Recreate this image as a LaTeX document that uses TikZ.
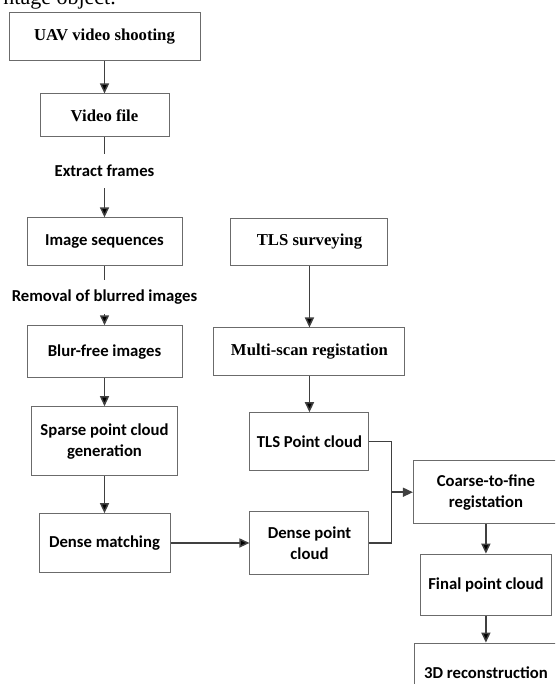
\documentclass[tikz,border=0pt]{standalone}
\usepackage{fontspec}
\setmainfont{Liberation Serif}
\setsansfont{Carlito}
\usepackage{tikz}
\usetikzlibrary{positioning,arrows.meta}
\definecolor{framegray}{rgb}{0.42, 0.42, 0.42}
\definecolor{linegray}{rgb}{0.25, 0.25, 0.25}
\tikzstyle{serifbox}=[rectangle, draw=framegray, line width=1pt, inner sep=0pt, align=center, font=\fontsize{16.7}{21}\selectfont\rmfamily\bfseries]
\tikzstyle{sansbox}=[rectangle, draw=framegray, line width=1pt, inner sep=0pt, align=center, font=\fontsize{16.7}{21}\selectfont\sffamily\bfseries]
\tikzstyle{steplabel}=[rectangle, inner sep=0pt, minimum height=34pt, font=\fontsize{16.7}{21}\selectfont\sffamily\bfseries]
\tikzstyle{link}=[draw=linegray, line width=1.5pt]

\begin{document}
\begin{tikzpicture}[x=1pt, y=-1pt, >={Triangle[length=10pt,width=9pt]}]
\useasboundingbox (0,0) rectangle (555,684);
\clip (0,0) rectangle (555,684);

\node[anchor=base east, inner sep=0pt, font=\fontsize{22}{26}\selectfont\rmfamily](pagetext) at (116,5){ntage object.};

\node[serifbox, minimum width=191pt, minimum height=48pt](uav) at (104.5,37){UAV video shooting};
\node[serifbox, minimum width=129pt, minimum height=43pt](video)[below of = uav, yshift = -50pt]{Video file};
\node[steplabel](extract)[below of = video, yshift = -27pt]{Extract frames};
\node[sansbox, minimum width=155pt, minimum height=48pt](imgseq)[below of = extract, yshift = -42.5pt]{Image sequences};
\node[steplabel](removal)[below of = imgseq, yshift = -26.5pt]{Removal of blurred images};
\node[sansbox, minimum width=155pt, minimum height=52pt](blurfree)[below of = removal, yshift = -26.5pt]{Blur-free images};
\node[sansbox, minimum width=146pt, minimum height=69pt](sparse)[below of = blurfree, yshift = -61pt]{Sparse point cloud\\generation};
\node[sansbox, minimum width=131pt, minimum height=58.6pt](densematch)[below of = sparse, yshift = -73.3pt]{Dense matching};

\node[serifbox, minimum width=157pt, minimum height=47.7pt](tlssurvey)[right of = imgseq, xshift = 176.5pt]{TLS surveying};
\node[serifbox, minimum width=191pt, minimum height=47.6pt](multiscan)[right of = blurfree, xshift = 176.5pt]{Multi-scan registation};
\node[sansbox, minimum width=119pt, minimum height=58pt](tlspc)[below of = multiscan, yshift = -61.5pt]{TLS Point cloud};
\node[sansbox, minimum width=119pt, minimum height=63pt](densepc)[right of = densematch, xshift = 176.5pt]{Dense point\\cloud};

\node[sansbox, minimum width=145pt, minimum height=63.4pt](coarse)[right of = tlspc, xshift = 148pt, yshift = -50.5pt]{Coarse-to-fine\\registation};
\node[sansbox, minimum width=131pt, minimum height=61pt](final)[below of = coarse, yshift = -64pt]{Final point cloud};
\node[sansbox, minimum width=142pt, minimum height=60pt](recon)[below of = final, yshift = -60pt]{3D reconstruction};
\coordinate[left of = coarse, xshift = -66pt](bus);

\path[->, link] (uav)edge(video);
\path[link] (video)edge(extract);
\path[->, link] (extract)edge(imgseq);
\path[link] (imgseq)edge(removal);
\path[->, link] (removal)edge(blurfree);
\path[->, link] (blurfree)edge(sparse);
\path[->, link] (sparse)edge(densematch);
\path[->, link] (densematch)edge(densepc);
\path[->, link] (tlssurvey)edge(multiscan);
\path[->, link] (multiscan)edge(tlspc);
\path[link] (tlspc.east) -| (bus) |- (densepc.east);
\draw[->, link] (bus) -- (coarse);
\path[->, link] (coarse)edge(final);
\path[->, link] (final)edge(recon);

\end{tikzpicture}
\end{document}
